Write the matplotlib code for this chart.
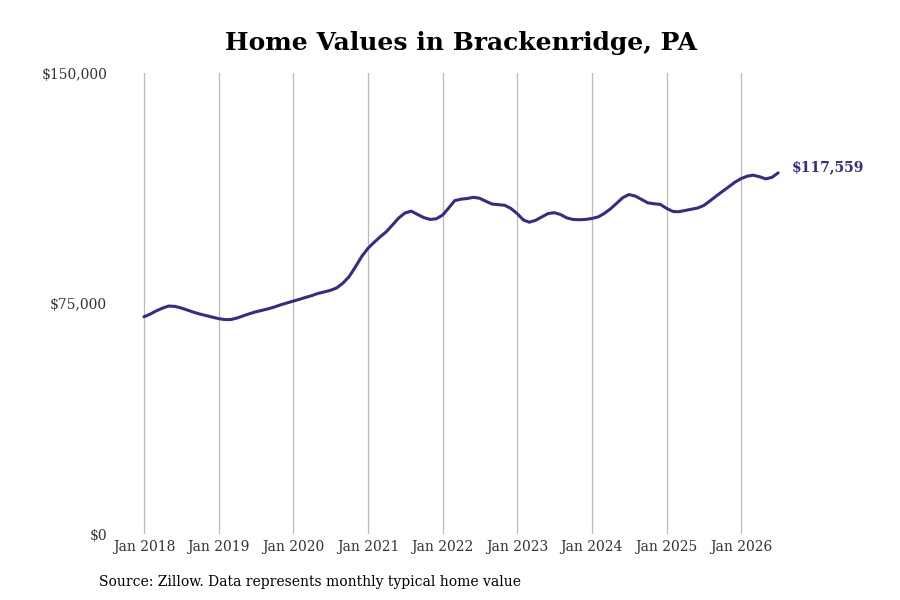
"""
    Home values in Brackenridge, PA (monthly typical home value)
"""

import datetime as dt

import matplotlib
matplotlib.use("Agg")
from matplotlib import pyplot as plt
from matplotlib.ticker import FuncFormatter

# monthly values in thousands of dollars, Jan 2018 .. Jul 2026
v2018 = [70.7, 71.6, 72.6, 73.5, 74.2, 74.1, 73.6, 72.9, 72.2, 71.6, 71.1, 70.6]
v2019 = [70.1, 69.8, 69.8, 70.3, 71.0, 71.7, 72.3, 72.8, 73.3, 73.9, 74.6, 75.2]
v2020 = [75.8, 76.4, 77.0, 77.6, 78.3, 78.8, 79.3, 80.1, 81.7, 83.8, 87.0, 90.3]
v2021 = [93.0, 95.0, 96.7, 98.4, 100.6, 102.9, 104.5, 105.1, 104.0, 103.0, 102.4, 102.6]
v2022 = [103.8, 106.2, 108.5, 109.0, 109.2, 109.6, 109.3, 108.3, 107.4, 107.2, 107.0, 106.0]
v2023 = [104.3, 102.2, 101.5, 102.1, 103.2, 104.3, 104.6, 104.0, 102.9, 102.4, 102.3, 102.4]
v2024 = [102.7, 103.2, 104.3, 105.8, 107.6, 109.5, 110.5, 110.0, 108.9, 107.8, 107.5, 107.3]
v2025 = [106.0, 105.0, 104.9, 105.3, 105.7, 106.1, 106.9, 108.4, 110.0, 111.5, 113.0, 114.5]
v2026 = [115.7, 116.5, 116.8, 116.3, 115.6, 116.1, 117.559]

valores = v2018 + v2019 + v2020 + v2021 + v2022 + v2023 + v2024 + v2025 + v2026
valores = [v * 1000 for v in valores]

datas = []
for i in range(len(valores)):
    ano = 2018 + i // 12
    mes = i % 12 + 1
    datas.append(dt.date(ano, mes, 1))

anos_ticks = [dt.date(a, 1, 1) for a in range(2018, 2027)]
rotulos_x = ["Jan %d" % a for a in range(2018, 2027)]
y_ticks = [0, 75000, 150000]

cor = "#332d86"
plt.rcParams["font.family"] = "DejaVu Serif"

fig = plt.figure(figsize=(9, 6), dpi=100)
ax = fig.add_axes([0.13, 0.11, 0.748, 0.768])

ax.plot(datas, valores, color=cor, linewidth=2.2, solid_capstyle="round")

ax.set_xlim(dt.date(2017, 8, 22), dt.date(2026, 8, 29))
ax.set_ylim(0, 150000)

ax.set_xticks(anos_ticks)
ax.set_xticklabels(rotulos_x)
ax.set_yticks(y_ticks)
ax.yaxis.set_major_formatter(FuncFormatter(lambda v, p: "${:,.0f}".format(v)))

ax.grid(axis="x", color="#bbbbbb", linewidth=0.9)
ax.grid(axis="y", visible=False)
for s in ax.spines.values():
    s.set_visible(False)
ax.tick_params(length=0, labelsize=10, labelcolor="#333333")
ax.tick_params(axis="x", pad=4)
ax.tick_params(axis="y", pad=7)

# rotulo do ultimo valor
ax.annotate("${:,.0f}".format(valores[-1]), xy=(datas[-1], valores[-1]),
            xytext=(10, 4), textcoords="offset points", color=cor,
            fontsize=10, fontweight="bold", va="center", ha="left")

fig.text(0.512, 0.928, "Home Values in Brackenridge, PA", ha="center", va="center",
         fontsize=18, fontweight="bold")
fig.text(0.11, 0.03, "Source: Zillow. Data represents monthly typical home value",
         ha="left", va="center", fontsize=10)

fig.savefig("out.png", dpi=100)
